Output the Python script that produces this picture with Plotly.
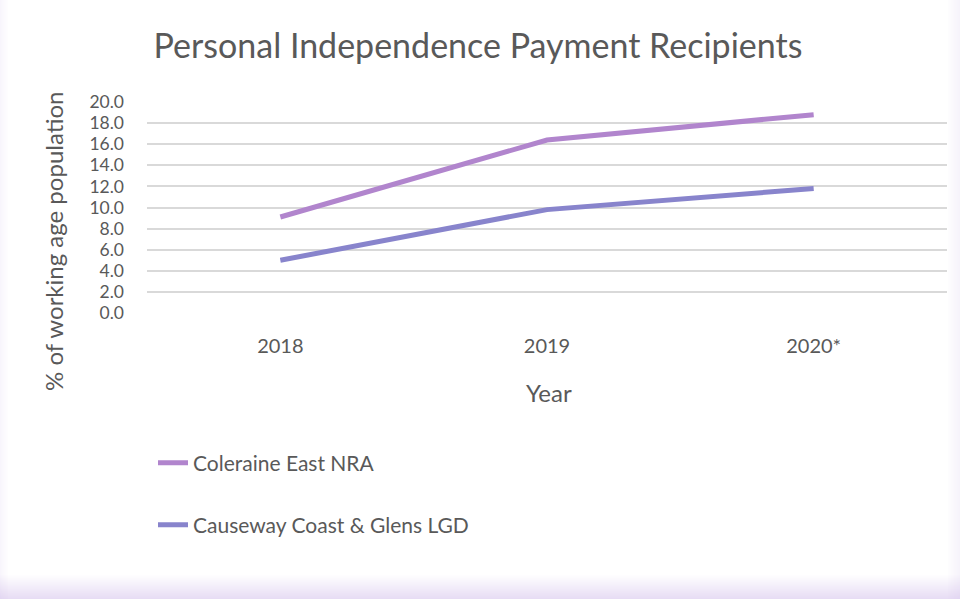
import plotly.graph_objects as go

years = ["2018", "2019", "2020*"]
coleraine = [9.1, 16.4, 18.8]
causeway = [5.0, 9.8, 11.8]
series_names = ["Coleraine East NRA", "Causeway Coast & Glens LGD"]
colors = ["#B185CD", "#8884CC"]
y_ticks = [0, 2, 4, 6, 8, 10, 12, 14, 16, 18, 20]

FONT = "Lato"
GRAY = "#595959"

W, H = 960, 599
L, R, T, B = 147, 13, 102, 286
PW, PH = W - L - R, H - T - B


def px_x(x):
    return (x - L) / PW


def px_y(y):
    return (H - B - y) / PH


fig = go.Figure()
fig.add_trace(go.Scatter(x=years, y=coleraine, mode="lines", name=series_names[0],
                         line=dict(color=colors[0], width=5), legend="legend"))
fig.add_trace(go.Scatter(x=years, y=causeway, mode="lines", name=series_names[1],
                         line=dict(color=colors[1], width=5), legend="legend2"))

shapes = []
# soft frame: right edge
for i in range(12):
    shapes.append(dict(type="rect", xref="paper", yref="paper",
                       x0=px_x(948 + i), x1=px_x(949 + i), y0=px_y(599), y1=px_y(0),
                       fillcolor="rgba(200,180,230,%.3f)" % (0.03 + 0.012 * i),
                       line_width=0, layer="below"))
# bottom edge
for i in range(24):
    y = 575 + i
    shapes.append(dict(type="rect", xref="paper", yref="paper",
                       x0=px_x(0), x1=px_x(W), y0=px_y(y + 1), y1=px_y(y),
                       fillcolor="rgba(200,175,230,%.3f)" % (0.02 + 0.018 * i),
                       line_width=0, layer="below"))
# left edge
for i in range(8):
    shapes.append(dict(type="rect", xref="paper", yref="paper",
                       x0=px_x(i), x1=px_x(i + 1), y0=px_y(599), y1=px_y(0),
                       fillcolor="rgba(200,175,230,%.3f)" % (0.12 - 0.014 * i),
                       line_width=0, layer="below"))

fig.update_layout(
    width=W, height=H,
    margin=dict(l=L, r=R, t=T, b=B),
    paper_bgcolor="white", plot_bgcolor="white",
    font=dict(family=FONT, color=GRAY),
    title=dict(text="Personal Independence Payment Recipients",
               x=478 / W, xanchor="center", y=1 - 46 / H, yanchor="middle",
               font=dict(size=34, family=FONT, color=GRAY)),
    xaxis=dict(type="category", range=[-0.5, 2.5], showgrid=False, showline=False,
               zeroline=False, ticks="", tickfont=dict(size=20, color=GRAY),
               ticklabelstandoff=19, automargin=False),
    yaxis=dict(range=[0, 20], tickvals=y_ticks, ticktext=["%.1f" % v for v in y_ticks],
               showgrid=True, gridcolor="#D9D9D9", gridwidth=1.5, zeroline=False,
               showline=False, ticks="", tickfont=dict(size=17.5, color=GRAY),
               ticklabelstandoff=22, automargin=False),
    showlegend=True,
    legend=dict(x=px_x(153), y=px_y(463), xanchor="left", yanchor="middle",
                font=dict(size=21, color=GRAY), bgcolor="rgba(0,0,0,0)"),
    legend2=dict(x=px_x(153), y=px_y(525), xanchor="left", yanchor="middle",
                 font=dict(size=21, color=GRAY), bgcolor="rgba(0,0,0,0)"),
    shapes=shapes,
    annotations=[
        dict(text="% of working age population", textangle=-90, x=px_x(53), y=px_y(241),
             xref="paper", yref="paper", showarrow=False, font=dict(size=24, color=GRAY),
             xanchor="center", yanchor="middle"),
        dict(text="Year", x=px_x(549), y=px_y(392), xref="paper", yref="paper",
             showarrow=False, font=dict(size=24, color=GRAY), xanchor="center", yanchor="middle"),
    ],
)

fig.write_html("out.html", config={"displayModeBar": False},
               post_script="document.body.style.margin='0';document.body.style.overflow='hidden';")
